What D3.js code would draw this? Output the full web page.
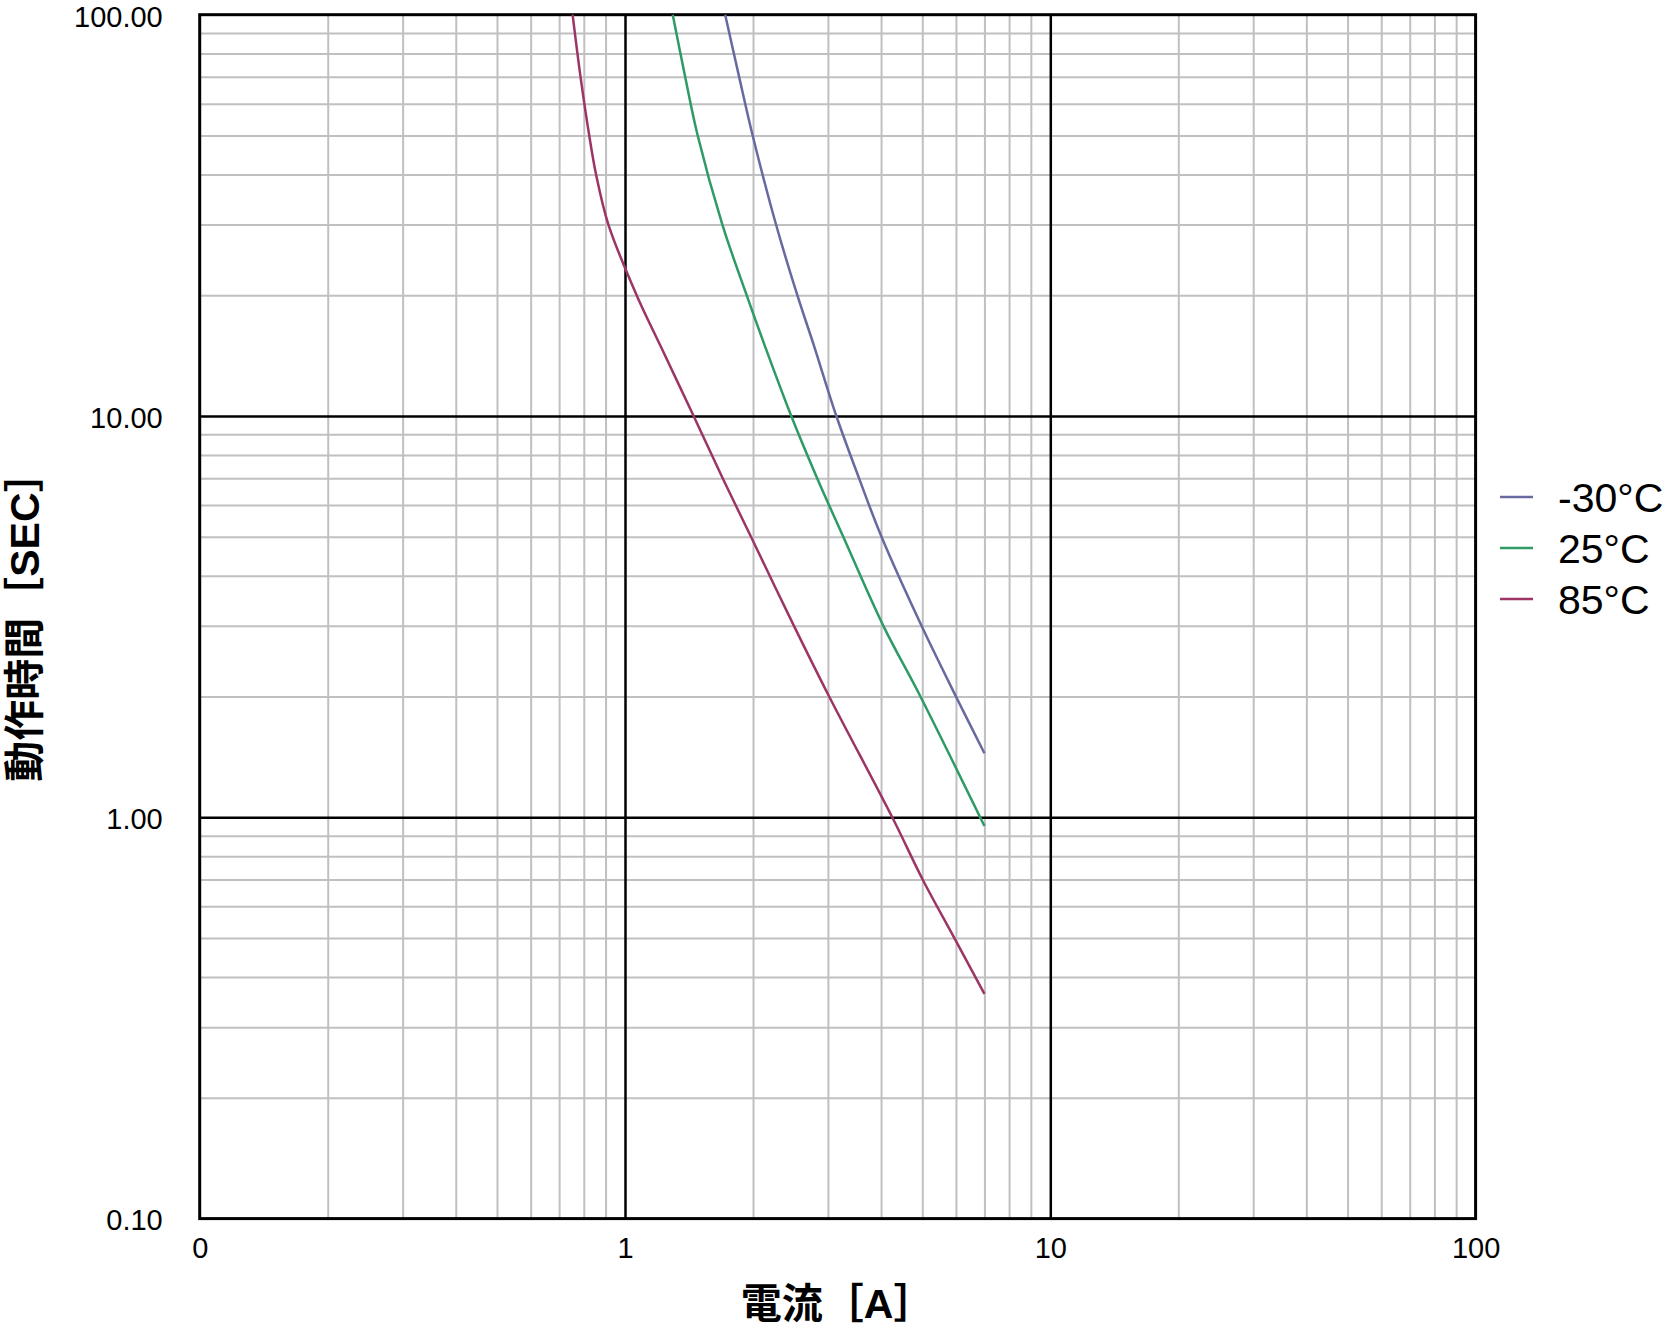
<!DOCTYPE html>
<html lang="ja">
<head>
    <meta charset="UTF-8">
    <title>動作時間</title>
    <script src="https://d3js.org/d3.v7.min.js"></script>
    <style>
        body { margin: 0; background: #fff; }
        svg { display: block; font-family: "Liberation Sans", Arial, Helvetica, "Noto Sans CJK JP", sans-serif; }
        .tick-label { font-size: 29px; fill: #000; }
        .axis-title { font-size: 41px; font-weight: bold; font-family: "Liberation Sans", Arial, "Noto Sans CJK JP", sans-serif; }
        .legend-text { font-size: 41px; }
    </style>
</head>
<body>
    <svg id="chart"></svg>

    <script>
        // series values: current [A] vs trip time [s]
        var ampsNeg30 = [1.72, 1.855, 1.996, 2.265, 2.542, 2.78, 3.14, 3.55, 4.01, 4.98, 6.0, 7.0];
        var secsNeg30 = [100, 70, 50, 30, 20, 15, 10, 7, 5, 3, 2, 1.444];

        var amps25 = [1.295, 1.385, 1.482, 1.694, 1.932, 2.13, 2.46, 2.83, 3.26, 4.05, 4.95, 7.0];
        var secs25 = [100, 70, 50, 30, 20, 15, 10, 7, 5, 3, 2, 0.951];

        var amps85 = [0.753, 0.786, 0.824, 0.855, 0.914, 1.065, 1.21, 1.45, 1.697, 1.978, 2.496, 3.02, 4.25, 5.01, 5.95, 7.0];
        var secs85 = [100, 70, 50, 40, 30, 20, 15, 10, 7, 5, 3, 2, 1, 0.7, 0.5, 0.363];

        var seriesNames = ['-30°C', '25°C', '85°C'];

        var xTickValues = [0.1, 1, 10, 100];
        var xTickLabels = ['0', '1', '10', '100'];
        var yTickValues = [0.1, 1, 10, 100];
        var yTickLabels = ['0.10', '1.00', '10.00', '100.00'];

        var series = [
            { name: seriesNames[0], amps: ampsNeg30, secs: secsNeg30 },
            { name: seriesNames[1], amps: amps25, secs: secs25 },
            { name: seriesNames[2], amps: amps85, secs: secs85 }
        ];
        var colors = ['#67699f', '#2e9a64', '#9c3566'];

        var margin = { top: 14.7, left: 199.7 };
        var width = 1275.9;
        var height = 1203.9;

        var root = d3.select('#chart')
            .attr('width', 1674)
            .attr('height', 1328);

        var svg = root.append('g')
            .attr('transform', 'translate(' + margin.left + ',' + margin.top + ')');

        var xScale = d3.scaleLog().domain([0.1, 100]).range([0, width]);
        var yScale = d3.scaleLog().domain([0.1, 100]).range([height, 0]);

        // minor grid values 2..9 in each decade
        var minorTicks = [];
        [0.1, 1, 10].forEach(function (d) {
            for (var k = 2; k <= 9; k++) minorTicks.push(d * k);
        });

        svg.append('g')
            .attr('class', 'grid')
            .attr('transform', 'translate(0,' + height + ')')
            .call(d3.axisBottom(xScale).tickValues(minorTicks).tickSize(-height).tickFormat(''));
        svg.append('g')
            .attr('class', 'grid')
            .call(d3.axisLeft(yScale).tickValues(minorTicks).tickSize(-width).tickFormat(''));
        svg.selectAll('.grid line').attr('stroke', '#c0c0c0').attr('stroke-width', 2);

        svg.append('g')
            .attr('class', 'major')
            .attr('transform', 'translate(0,' + height + ')')
            .call(d3.axisBottom(xScale).tickValues([1, 10]).tickSize(-height).tickFormat(''));
        svg.append('g')
            .attr('class', 'major')
            .call(d3.axisLeft(yScale).tickValues([1, 10]).tickSize(-width).tickFormat(''));
        svg.selectAll('.major line').attr('stroke', '#000').attr('stroke-width', 2.5);
        svg.selectAll('.grid .domain, .major .domain').remove();

        svg.append('rect')
            .attr('width', width)
            .attr('height', height)
            .attr('fill', 'none')
            .attr('stroke', '#000')
            .attr('stroke-width', 3);

        var line = d3.line()
            .x(function (d) { return xScale(d[0]); })
            .y(function (d) { return yScale(d[1]); })
            .curve(d3.curveCatmullRom.alpha(0.5));

        series.forEach(function (s, i) {
            svg.append('path')
                .datum(d3.zip(s.amps, s.secs))
                .attr('fill', 'none')
                .attr('stroke', colors[i])
                .attr('stroke-width', 2.5)
                .attr('d', line);
        });

        // tick labels
        var xAxis = svg.append('g')
            .attr('transform', 'translate(0,' + height + ')')
            .call(d3.axisBottom(xScale).tickValues(xTickValues).tickSize(0).tickPadding(19)
                .tickFormat(function (d, i) { return xTickLabels[i]; }));
        var yAxis = svg.append('g')
            .call(d3.axisLeft(yScale).tickValues(yTickValues).tickSize(0).tickPadding(37)
                .tickFormat(function (d, i) { return yTickLabels[i]; }));
        xAxis.select('.domain').remove();
        yAxis.select('.domain').remove();
        root.selectAll('.tick text')
            .attr('class', 'tick-label');
        yAxis.selectAll('.tick text').attr('dy', '0.39em');
        xAxis.attr('font-family', null).attr('font-size', null);
        yAxis.attr('font-family', null).attr('font-size', null);

        // axis titles
        root.append('text')
            .attr('class', 'axis-title')
            .attr('x', margin.left + width / 2)
            .attr('y', 1318)
            .style('text-anchor', 'middle')
            .text('電流［A］');

        root.append('text')
            .attr('class', 'axis-title')
            .attr('transform', 'rotate(-90)')
            .attr('x', -(margin.top + height / 2))
            .attr('y', 39)
            .style('text-anchor', 'middle')
            .text('動作時間［SEC］');

        // legend
        var legend = root.selectAll('.legend')
            .data(series)
            .enter()
            .append('g')
            .attr('class', 'legend')
            .attr('transform', function (d, i) { return 'translate(1500,' + (497 + i * 51) + ')'; });

        legend.append('line')
            .attr('x1', 0)
            .attr('x2', 33)
            .attr('stroke', function (d, i) { return colors[i]; })
            .attr('stroke-width', 2.5);

        legend.append('text')
            .attr('class', 'legend-text')
            .attr('x', 58)
            .attr('y', 15)
            .text(function (d) { return d.name; });
    </script>
</body>
</html>
